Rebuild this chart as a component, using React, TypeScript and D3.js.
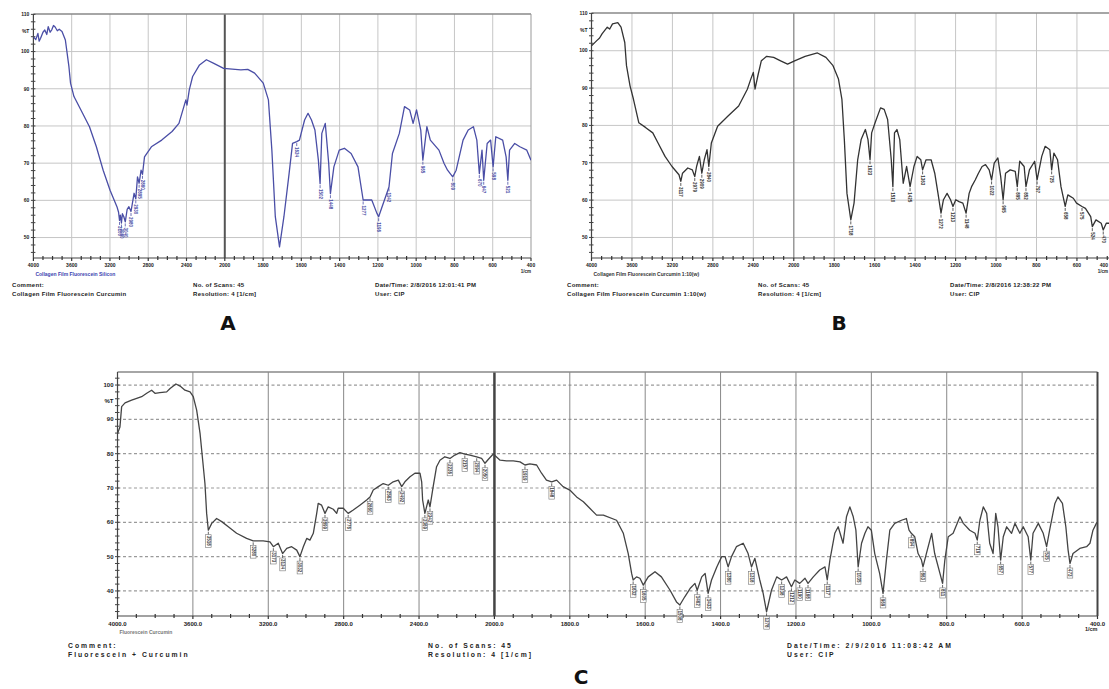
import React from "react";
import * as d3 from "d3";

type Pt = [number, number];

// wavenumber axis (cm-1), scale changes at 2000
const wavenumberTicks = [4000, 3600, 3200, 2800, 2400, 2000, 1800, 1600, 1400, 1200, 1000, 800, 600, 400];
const transTicksAB = [50, 60, 70, 80, 90, 100, 110];
const transTicksC = [40, 50, 60, 70, 80, 90, 100];

// A: collagen film + fluorescein + curcumin
const spectrumA: Pt[] = [
  [4000, 104.0], [3975, 103.2], [3953, 104.9], [3940, 102.8], [3925, 103.6], [3900, 105.2], [3881, 105.8], [3860, 104.6],
  [3845, 106.7], [3825, 105.2], [3809, 105.8], [3790, 107.0], [3773, 106.6], [3750, 105.6], [3730, 106.0], [3701, 105.4],
  [3666, 103.1], [3629, 96.0], [3612, 91.5], [3576, 87.9], [3486, 83.4], [3414, 79.8], [3342, 74.4], [3271, 68.1],
  [3199, 62.7], [3127, 58.3], [3110, 56.8], [3100, 54.6], [3091, 56.0], [3080, 53.9], [3070, 56.4], [3055, 55.6],
  [3040, 54.2], [3020, 57.6], [3002, 58.3], [2980, 57.0], [2948, 61.9], [2930, 60.4], [2912, 66.3], [2895, 64.6],
  [2875, 68.1], [2860, 67.0], [2839, 71.7], [2767, 74.4], [2659, 76.2], [2551, 78.5], [2479, 80.7], [2407, 87.0],
  [2395, 85.6], [2371, 89.7], [2336, 93.3], [2264, 96.4], [2192, 97.8], [2120, 96.9], [2012, 95.5], [1916, 95.1],
  [1880, 95.2], [1844, 94.2], [1799, 91.5], [1772, 87.0], [1754, 73.5], [1736, 55.6], [1714, 47.5], [1691, 55.6],
  [1664, 67.2], [1646, 75.3], [1624, 75.8], [1610, 76.2], [1583, 81.6], [1565, 83.4], [1547, 81.6], [1529, 78.9],
  [1511, 70.8], [1502, 64.5], [1493, 78.0], [1475, 80.7], [1457, 69.9], [1448, 61.8], [1430, 69.0], [1402, 73.5],
  [1375, 74.0], [1340, 72.6], [1304, 69.0], [1277, 60.1], [1259, 60.1], [1232, 60.1], [1205, 56.5], [1196, 55.6],
  [1178, 58.3], [1142, 63.6], [1124, 72.6], [1088, 78.0], [1061, 85.2], [1034, 84.3], [1016, 80.7], [998, 84.3],
  [976, 78.9], [965, 70.8], [944, 79.8], [926, 76.2], [881, 73.5], [854, 69.9], [836, 68.1], [809, 66.3],
  [791, 68.1], [755, 76.2], [728, 78.9], [701, 79.8], [683, 76.2], [670, 67.2], [656, 73.5], [647, 65.4],
  [629, 75.3], [611, 76.2], [598, 69.0], [584, 77.1], [548, 76.2], [530, 71.7], [521, 65.4], [512, 73.5],
  [485, 75.3], [458, 74.4], [422, 73.5], [400, 70.8],
];
const peaksA = [3100, 3080, 3040, 2980, 2930, 2895, 2860, 1624, 1502, 1448, 1277, 1196, 1142, 965, 809, 670, 647, 598, 521];

// B: collagen film + fluorescein + curcumin 1:10
const spectrumB: Pt[] = [
  [4000, 101.3], [3948, 102.7], [3920, 103.4], [3896, 104.5], [3844, 106.3], [3820, 105.8], [3792, 107.2], [3740, 107.5],
  [3708, 106.3], [3671, 102.2], [3654, 96.0], [3619, 90.6], [3585, 87.0], [3532, 80.7], [3463, 79.4], [3394, 78.0],
  [3342, 75.3], [3273, 71.7], [3204, 69.0], [3135, 66.8], [3117, 65.0], [3100, 67.2], [3048, 68.6], [3003, 68.1],
  [2979, 66.3], [2961, 69.0], [2933, 71.7], [2909, 67.2], [2885, 70.8], [2858, 73.5], [2840, 69.0], [2815, 75.3],
  [2753, 79.8], [2650, 82.5], [2545, 85.2], [2459, 89.7], [2425, 92.4], [2400, 94.2], [2383, 89.7], [2355, 93.3],
  [2321, 97.3], [2268, 98.5], [2199, 98.2], [2130, 97.3], [2061, 96.4], [1996, 97.3], [1944, 98.5], [1883, 99.4],
  [1841, 98.2], [1806, 96.0], [1779, 92.4], [1762, 87.0], [1750, 76.2], [1737, 61.8], [1718, 54.7], [1702, 59.2],
  [1684, 70.8], [1667, 76.2], [1646, 78.9], [1633, 76.2], [1623, 70.8], [1615, 78.0], [1598, 80.7], [1571, 84.7],
  [1553, 84.3], [1536, 81.6], [1518, 70.8], [1510, 63.6], [1502, 78.0], [1490, 78.9], [1476, 76.2], [1459, 64.5],
  [1442, 69.0], [1425, 63.6], [1406, 69.0], [1390, 71.7], [1372, 70.8], [1363, 68.1], [1346, 70.8], [1321, 70.8],
  [1303, 67.2], [1287, 61.8], [1272, 56.5], [1260, 60.1], [1242, 61.8], [1225, 60.1], [1213, 58.3], [1199, 60.1],
  [1183, 59.6], [1164, 59.2], [1148, 56.5], [1133, 61.8], [1121, 63.6], [1103, 65.4], [1087, 67.2], [1069, 69.0],
  [1052, 69.5], [1034, 68.1], [1022, 65.4], [1009, 69.9], [991, 71.3], [977, 66.3], [965, 60.1], [953, 67.2],
  [930, 68.1], [905, 67.7], [895, 63.6], [883, 70.4], [861, 69.0], [852, 63.6], [835, 68.1], [809, 70.4],
  [797, 65.4], [774, 71.7], [757, 74.4], [734, 73.5], [725, 68.1], [714, 72.6], [696, 70.8], [679, 63.6],
  [658, 58.3], [645, 61.4], [618, 60.5], [602, 59.2], [575, 58.3], [558, 57.8], [532, 55.6], [524, 52.9],
  [506, 54.7], [480, 53.8], [470, 52.0], [455, 53.8], [440, 53.8], [400, 53.5],
];
const peaksB = [3117, 2979, 2909, 2840, 1718, 1623, 1510, 1425, 1363, 1272, 1213, 1148, 1022, 965, 895, 852, 797, 725, 658, 575, 524, 470];

// C: fluorescein + curcumin
const spectrumC: Pt[] = [
  [4000, 85.9], [3987, 87.8], [3978, 93.7], [3960, 94.8], [3925, 95.6], [3898, 96.1], [3872, 96.6], [3845, 97.6],
  [3819, 98.5], [3801, 97.6], [3775, 97.8], [3739, 98.0], [3721, 99.0], [3690, 100.3], [3668, 99.7], [3642, 98.5],
  [3615, 98.0], [3598, 96.6], [3580, 92.7], [3562, 85.9], [3548, 78.1], [3536, 71.3], [3527, 62.6], [3518, 57.7],
  [3500, 59.7], [3474, 61.1], [3447, 60.2], [3412, 58.7], [3368, 56.8], [3315, 55.3], [3280, 54.6], [3227, 54.6],
  [3191, 54.3], [3173, 52.9], [3147, 53.9], [3124, 50.9], [3102, 52.4], [3076, 52.9], [3049, 51.9], [3032, 50.0],
  [3014, 52.9], [2996, 55.3], [2979, 54.8], [2961, 56.8], [2943, 62.6], [2935, 65.5], [2917, 65.0], [2899, 62.6],
  [2882, 64.5], [2855, 63.8], [2837, 62.6], [2829, 64.1], [2802, 64.1], [2776, 62.6], [2749, 63.6], [2714, 65.0],
  [2678, 66.5], [2660, 67.4], [2643, 69.4], [2616, 70.4], [2590, 71.3], [2563, 70.8], [2537, 71.8], [2510, 72.3],
  [2492, 70.4], [2475, 71.8], [2448, 73.3], [2422, 74.3], [2395, 74.3], [2386, 71.8], [2381, 66.5], [2369, 62.6],
  [2351, 66.5], [2342, 64.5], [2325, 70.4], [2307, 76.2], [2289, 78.1], [2263, 79.1], [2236, 78.6], [2210, 79.6],
  [2183, 80.3], [2157, 79.9], [2130, 79.6], [2094, 79.1], [2068, 78.6], [2050, 77.2], [2033, 78.3], [2006, 79.9],
  [1985, 78.1], [1968, 77.9], [1950, 77.9], [1932, 77.6], [1919, 76.7], [1906, 77.0], [1888, 76.7], [1875, 74.3],
  [1862, 72.3], [1848, 71.8], [1835, 72.3], [1818, 70.4], [1800, 69.4], [1782, 67.4], [1764, 66.0], [1747, 64.1],
  [1729, 62.1], [1711, 62.1], [1676, 60.6], [1658, 56.8], [1645, 50.9], [1636, 45.1], [1632, 43.2], [1623, 44.1],
  [1614, 43.7], [1605, 41.7], [1592, 44.1], [1574, 45.6], [1557, 44.1], [1534, 40.2], [1517, 36.8], [1508, 35.9],
  [1495, 38.3], [1481, 40.7], [1468, 42.2], [1462, 40.2], [1450, 44.1], [1441, 45.1], [1433, 39.3], [1424, 43.2],
  [1410, 47.0], [1397, 50.0], [1388, 50.0], [1380, 47.0], [1371, 50.0], [1358, 52.9], [1340, 53.9], [1327, 50.9],
  [1318, 47.0], [1309, 49.5], [1296, 43.2], [1287, 39.3], [1278, 33.9], [1265, 40.2], [1251, 44.1], [1238, 43.2],
  [1225, 44.1], [1212, 41.2], [1203, 43.2], [1190, 42.2], [1176, 43.7], [1168, 42.2], [1154, 44.1], [1137, 46.1],
  [1123, 47.0], [1117, 43.2], [1110, 49.0], [1097, 56.8], [1088, 58.7], [1075, 53.9], [1066, 61.6], [1057, 64.5],
  [1048, 61.6], [1041, 57.7], [1035, 47.0], [1026, 53.9], [1017, 56.8], [1009, 58.7], [1000, 57.7], [991, 50.9],
  [978, 45.1], [969, 39.3], [960, 49.0], [951, 57.7], [938, 59.7], [920, 60.6], [907, 61.1], [900, 57.7],
  [894, 56.8], [885, 55.8], [876, 50.9], [867, 49.0], [863, 47.0], [854, 50.9], [840, 56.8], [832, 50.9],
  [818, 45.1], [811, 42.2], [805, 49.0], [796, 55.8], [783, 56.8], [765, 61.6], [756, 59.7], [739, 57.7],
  [725, 56.8], [719, 54.8], [712, 60.6], [703, 64.5], [694, 62.6], [686, 53.9], [677, 50.9], [670, 62.6],
  [664, 58.7], [657, 49.0], [650, 55.8], [641, 58.7], [628, 56.8], [619, 59.7], [606, 56.8], [597, 58.7],
  [584, 55.8], [577, 49.0], [571, 56.8], [557, 59.7], [544, 56.8], [535, 52.9], [527, 57.7], [513, 65.5],
  [505, 67.4], [493, 65.5], [484, 58.7], [478, 51.9], [473, 48.0], [465, 50.9], [447, 52.4], [429, 52.9],
  [420, 53.9], [412, 57.7], [403, 59.7], [400, 60.0],
];
const peaksC = [3518, 3280, 3173, 3124, 3032, 2899, 2776, 2660, 2563, 2492, 2369, 2342, 2236, 2157, 2094, 2050, 1919, 1848,
  1632, 1605, 1508, 1462, 1433, 1380, 1318, 1278, 1238, 1212, 1190, 1168, 1117, 1035, 969, 894, 863, 811, 719, 657, 577, 535, 473];

const footerA = ["Comment:", "Collagen Film Fluorescein Curcumin", "No. of Scans: 45", "Resolution: 4 [1/cm]", "Date/Time: 2/8/2016 12:01:41 PM", "User: CIP"];
const footerB = ["Comment:", "Collagen Film Fluorescein Curcumin 1:10(w)", "No. of Scans: 45", "Resolution: 4 [1/cm]", "Date/Time: 2/8/2016 12:38:22 PM", "User: CIP"];
const footerC = ["Comment:", "Fluorescein + Curcumin", "No. of Scans: 45", "Resolution: 4 [1/cm]", "Date/Time: 2/9/2016 11:08:42 AM", "User: CIP"];
const sampleNames = ["Collagen Film Fluorescein Silicon", "Collagen Film Fluorescein Curcumin 1:10(w)", "Fluorescein Curcumin"];

const font = "Liberation Sans, Arial, sans-serif";
const W = 1109;

type Cfg = {
  key: string; left: number; right: number; top: number; bottom: number;
  yDomain: [number, number]; yTicks: number[]; data: Pt[]; peaks: number[];
  color: string; grid: string; dashed: boolean; midColor: string; midWidth: number;
  decimals: boolean; boxed: boolean; tickFont: number; footer: string[]; sample: string; sampleColor: string;
  foot: { x1: number; x2: number; x3: number; y1: number; y2: number; size: number; spacing: number };
  title: string; titleX: number; titleY: number;
};

const panels: Cfg[] = [
  {
    key: "A", left: 33.4, right: 531, top: 14, bottom: 258, yDomain: [44.5, 110.1], yTicks: transTicksAB,
    data: spectrumA, peaks: peaksA, color: "#4a4ea6", grid: "#c6c6c6", dashed: false, midColor: "#555", midWidth: 2,
    decimals: false, boxed: false, tickFont: 5, footer: footerA, sample: sampleNames[0], sampleColor: "#3b3fb0",
    foot: { x1: 12, x2: 193, x3: 375, y1: 287, y2: 295, size: 6, spacing: 0.3 },
    title: "A", titleX: 228, titleY: 330,
  },
  {
    key: "B", left: 591.5, right: 1117.4, top: 13, bottom: 258, yDomain: [44.5, 110.1], yTicks: transTicksAB,
    data: spectrumB, peaks: peaksB, color: "#333", grid: "#c6c6c6", dashed: false, midColor: "#999", midWidth: 1.5,
    decimals: false, boxed: false, tickFont: 5, footer: footerB, sample: sampleNames[1], sampleColor: "#333",
    foot: { x1: 567, x2: 758, x3: 950, y1: 287, y2: 295, size: 6, spacing: 0.3 },
    title: "B", titleX: 839, titleY: 330,
  },
  {
    key: "C", left: 117.5, right: 1097.5, top: 372, bottom: 616, yDomain: [32.7, 103.8], yTicks: transTicksC,
    data: spectrumC, peaks: peaksC, color: "#444", grid: "#9a9a9a", dashed: true, midColor: "#444", midWidth: 2.5,
    decimals: true, boxed: true, tickFont: 6, footer: footerC, sample: sampleNames[2], sampleColor: "#777",
    foot: { x1: 68, x2: 428, x3: 787, y1: 648, y2: 656, size: 6.8, spacing: 2 },
    title: "C", titleX: 581, titleY: 684,
  },
];

const Panel = ({ p }: { p: Cfg }) => {
  const step = (p.right - p.left) / 13;
  const x = d3.scaleLinear().domain([4000, 2000, 400]).range([p.left, p.left + 5 * step, p.right]);
  const y = d3.scaleLinear().domain(p.yDomain).range([p.bottom, p.top]);
  const line = d3.line<Pt>().x((d) => x(d[0])).y((d) => y(d[1]));
  const minorX = [...d3.range(4000, 2000, -100), ...d3.range(2000, 400, -50)].filter((v) => !wavenumberTicks.includes(v));
  const minorY = d3.range(Math.ceil(p.yDomain[0] / 2) * 2, p.yDomain[1], 2);
  const fmtX = p.decimals ? d3.format(".1f") : d3.format("d");
  const txt = { fontFamily: font, fontWeight: 700, fill: "#222" } as const;
  // the right end of panel B runs past the picture edge; keep its labels inside
  const edge = (xx: number) => (xx > W - 6 ? { x: W - 1, anchor: "end" } : { x: xx, anchor: "middle" });
  const unitX = Math.min(p.right, W - 1);

  return (
    <g>
      <defs>
        <clipPath id={`clip${p.key}`}>
          <rect x={p.left} y={p.top - 2} width={p.right - p.left} height={p.bottom - p.top + 20} />
        </clipPath>
      </defs>
      {/* grid */}
      {p.yTicks.filter((t) => y(t) > p.top + 3).map((t) => (
        <line key={`h${t}`} x1={p.left} x2={p.right} y1={y(t)} y2={y(t)} stroke={p.grid}
          strokeWidth={p.dashed ? 1.2 : 1} strokeDasharray={p.dashed ? "3,2.5" : undefined} />
      ))}
      {wavenumberTicks.slice(1, -1).map((t) => (
        <line key={`v${t}`} x1={x(t)} x2={x(t)} y1={p.top} y2={p.bottom}
          stroke={t === 2000 ? p.midColor : p.dashed ? "#888" : p.grid} strokeWidth={t === 2000 ? p.midWidth : 1} />
      ))}
      {/* frame */}
      <line x1={p.left} x2={p.right} y1={p.top} y2={p.top} stroke="#888" strokeWidth={1.5} />
      <line x1={p.right} x2={p.right} y1={p.top} y2={p.bottom} stroke={p.dashed ? "#444" : "#999"} strokeWidth={p.dashed ? 2 : 1} />
      <line x1={p.left} x2={p.left} y1={p.top} y2={p.bottom} stroke="#444" strokeWidth={1.2} />
      <line x1={p.left} x2={p.right} y1={p.bottom} y2={p.bottom} stroke="#444" strokeWidth={1.2} />
      {minorY.map((t) => (
        <line key={`my${t}`} x1={p.left - 2.5} x2={p.left + 2} y1={y(t)} y2={y(t)} stroke="#444" strokeWidth={1} />
      ))}
      {minorX.map((t) => (
        <line key={`mx${t}`} x1={x(t)} x2={x(t)} y1={p.bottom - 2} y2={p.bottom + 2} stroke="#333" strokeWidth={1.2} />
      ))}
      {wavenumberTicks.map((t) => {
        const e = edge(x(t));
        return (
          <g key={`xt${t}`}>
            <line x1={x(t)} x2={x(t)} y1={p.bottom} y2={p.bottom + 3} stroke="#333" strokeWidth={1.2} />
            <text x={e.x} y={p.bottom + 5} dy="0.8em" textAnchor={e.anchor} fontSize={p.tickFont} {...txt}>{fmtX(t)}</text>
          </g>
        );
      })}
      <text x={unitX} y={p.bottom + 11} dy="0.8em" textAnchor="end" fontSize={p.tickFont - 0.5} {...txt}>1/cm</text>
      {p.yTicks.map((t) => (
        <text key={`yt${t}`} x={p.left - 4} y={y(t)} dy="0.35em" textAnchor="end" fontSize={p.tickFont} {...txt}>{t}</text>
      ))}
      <text x={p.left - 4} y={y(p.yTicks[p.yTicks.length - 1] - 4.5)} dy="0.35em" textAnchor="end" fontSize={p.tickFont} {...txt}>%T</text>

      {/* spectrum */}
      <g clipPath={`url(#clip${p.key})`}>
        <path d={line(p.data) ?? ""} fill="none" stroke={p.color} strokeWidth={1.3} strokeLinejoin="round" />
        {p.peaks.map((pk) => {
          const d = d3.least(p.data, (e) => Math.abs(e[0] - pk))!;
          const s = String(pk);
          const len = s.length * 2.7 + 2;
          return (
            <g key={`pk${pk}`} transform={`translate(${x(d[0])},${y(d[1]) + 1.5})`}>
              <line y1={0} y2={3} stroke={p.color} strokeWidth={0.8} />
              {p.boxed && <rect x={-2.8} y={3} width={5.6} height={len} fill="#fff" stroke="#777" strokeWidth={0.6} />}
              <text transform="translate(0,4) rotate(90)" dy="0.35em" fontSize={4.5} fontFamily={font}
                fontWeight={700} fill={p.color}>{s}</text>
            </g>
          );
        })}
      </g>

      {/* sample name + footer */}
      <text x={p.left + 2} y={p.bottom + 14} dy="0.8em" fontSize={5} fontFamily={font} fontWeight={700} fill={p.sampleColor}>{p.sample}</text>
      {[[p.foot.x1, 0], [p.foot.x2, 2], [p.foot.x3, 4]].map(([fx, i]) => (
        <g key={`f${i}`} fontSize={p.foot.size} letterSpacing={p.foot.spacing} {...txt}>
          <text x={fx} y={p.foot.y1}>{p.footer[i]}</text>
          <text x={fx} y={p.foot.y2 + 1}>{p.footer[i + 1]}</text>
        </g>
      ))}
      <text x={p.titleX} y={p.titleY} textAnchor="middle" fontSize={20} fontWeight={700}
        fontFamily="DejaVu Sans, Verdana, sans-serif" fill="#111">{p.title}</text>
    </g>
  );
};

export default function App() {
  return (
    <svg width={W} height={689} viewBox={`0 0 ${W} 689`}
      style={{ position: "absolute", left: 0, top: 0, background: "#fff", display: "block" }}>
      <rect width={W} height={689} fill="#fff" />
      {panels.map((p) => (
        <Panel key={p.key} p={p} />
      ))}
    </svg>
  );
}
